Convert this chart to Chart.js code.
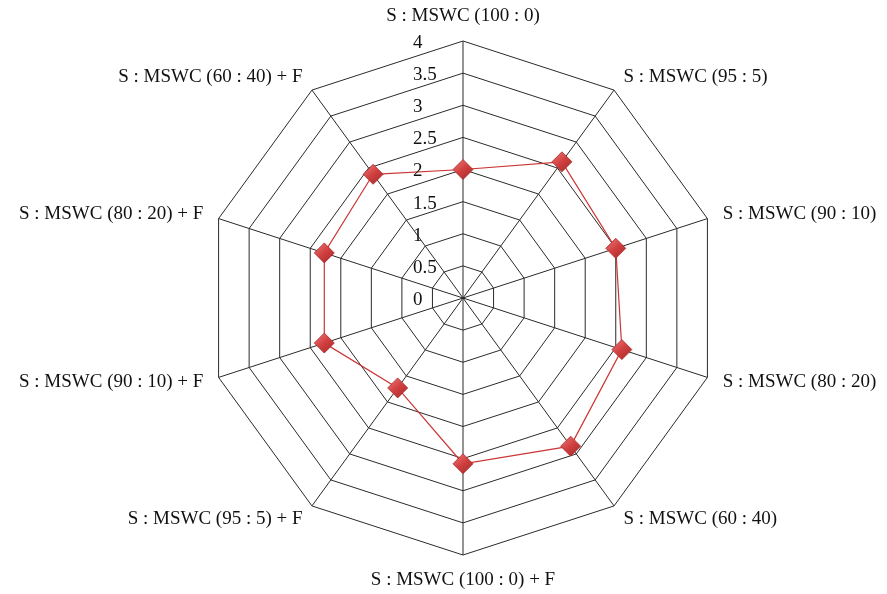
<!DOCTYPE html>
<html>
<head>
<meta charset="utf-8">
<script src="https://cdn.jsdelivr.net/npm/chart.js@4.4.1/dist/chart.umd.min.js"></script>
<style>
    html, body { margin: 0; padding: 0; background: #fff; }
    #wrap { width: 887px; height: 594px; position: relative; }
</style>
</head>
<body>
<div id="wrap"><canvas id="radarChart" width="887" height="594"></canvas></div>
<script>
// --- Data ---
const categories = [
    'S : MSWC (100 : 0)',
    'S : MSWC (95 : 5)',
    'S : MSWC (90 : 10)',
    'S : MSWC (80 : 20)',
    'S : MSWC (60 : 40)',
    'S : MSWC (100 : 0) + F',
    'S : MSWC (95 : 5) + F',
    'S : MSWC (90 : 10) + F',
    'S : MSWC (80 : 20) + F',
    'S : MSWC (60 : 40) + F'
];
const seriesValues = [2.0, 2.62, 2.5, 2.6, 2.85, 2.58, 1.73, 2.27, 2.27, 2.38];
const tickLabels = ['0', '0.5', '1', '1.5', '2', '2.5', '3', '3.5', '4'];

const FONT = '19px "Liberation Serif", "DejaVu Serif", serif';

// Draws the category labels and the value labels next to the top axis
const labelPlugin = {
    id: 'radarLabels',
    afterDraw(chart) {
        const scale = chart.scales.r;
        const ctx = chart.ctx;
        ctx.save();
        ctx.font = FONT;
        ctx.fillStyle = '#111';
        ctx.textBaseline = 'middle';

        // category labels around the web
        categories.forEach((label, i) => {
            const probe = scale.getPointPosition(i, scale.drawingArea);
            const dx = probe.x - scale.xCenter;
            let pos;
            if (Math.abs(dx) < 1) {
                pos = scale.getPointPosition(i, scale.drawingArea + 25);
                ctx.textAlign = 'center';
            } else {
                pos = scale.getPointPosition(i, scale.drawingArea + 16);
                ctx.textAlign = dx > 0 ? 'left' : 'right';
            }
            ctx.fillText(label, pos.x, pos.y);
        });

        // value labels, left aligned a bit left of the vertical axis
        ctx.textAlign = 'left';
        tickLabels.forEach(t => {
            const d = scale.getDistanceFromCenterForValue(parseFloat(t));
            ctx.fillText(t, scale.xCenter - 50, scale.yCenter - d + 2);
        });
        ctx.restore();
    }
};

// shaded diamond fill, lighter on top like the bevelled markers
function markerFill(context) {
    const chart = context.chart;
    const scale = chart.scales.r;
    if (!scale || context.dataIndex === undefined) return '#d04040';
    const v = seriesValues[context.dataIndex];
    const p = scale.getPointPosition(context.dataIndex, scale.getDistanceFromCenterForValue(v));
    const g = chart.ctx.createLinearGradient(p.x - 8, p.y - 10, p.x + 8, p.y + 10);
    g.addColorStop(0, '#ee7474');
    g.addColorStop(0.5, '#d03f3f');
    g.addColorStop(1, '#a92a2a');
    return g;
}

const ctx = document.getElementById('radarChart');
new Chart(ctx, {
    type: 'radar',
    data: {
        labels: categories,
        datasets: [{
            label: 'Value',
            data: seriesValues,
            borderColor: '#cc3535',
            borderWidth: 1.2,
            fill: false,
            pointStyle: 'rectRot',
            pointRadius: 10,
            pointHoverRadius: 10,
            pointBackgroundColor: markerFill,
            pointBorderColor: '#a82a2a',
            pointBorderWidth: 0.8
        }]
    },
    options: {
        responsive: false,
        animation: false,
        layout: {
            padding: { left: 206, right: 167, top: 41, bottom: 39 }
        },
        plugins: {
            legend: { display: false },
            tooltip: { enabled: false }
        },
        scales: {
            r: {
                min: 0,
                max: 4,
                ticks: {
                    stepSize: 0.5,
                    display: false,
                    showLabelBackdrop: false
                },
                pointLabels: { display: false },
                grid: {
                    color: '#2a2a2a',
                    lineWidth: 1,
                    circular: false
                },
                angleLines: {
                    color: '#2a2a2a',
                    lineWidth: 1
                }
            }
        }
    },
    plugins: [labelPlugin]
});
</script>
</body>
</html>
